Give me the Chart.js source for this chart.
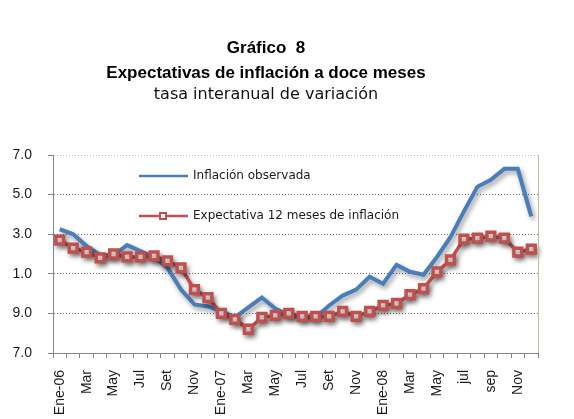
<!DOCTYPE html>
<html>
<head>
<meta charset="utf-8">
<script src="https://cdn.jsdelivr.net/npm/chart.js@4.4.0/dist/chart.umd.min.js"></script>
<style>
  html, body { margin: 0; padding: 0; background: #fff; }
  #wrap { width: 574px; height: 419px; position: relative; }
</style>
</head>
<body>
<div id="wrap"><canvas id="grafico" width="574" height="419"></canvas></div>
<script>
// Gráfico 8 — expectativas de inflación, ene-06 a dic-08
var meses = ['Ene-06', 'Feb', 'Mar', 'Abr', 'May', 'Jun', 'Jul', 'Ago', 'Set', 'Oct', 'Nov', 'Dic',
             'Ene-07', 'Feb', 'Mar', 'Abr', 'May', 'Jun', 'Jul', 'Ago', 'Set', 'Oct', 'Nov', 'Dic',
             'Ene-08', 'Feb', 'Mar', 'Abr', 'May', 'Jun', 'jul', 'ago', 'sep', 'oct', 'Nov', 'Dic'];

var inflacionObservada = [13.25, 13.0, 12.4, 11.95, 11.95, 12.45, 12.15, 11.85, 11.3, 10.2, 9.45, 9.35,
                          9.1, 8.8, 9.3, 9.8, 9.25, 8.9, 8.8, 8.8, 9.4, 9.9, 10.2, 10.85,
                          10.5, 11.45, 11.1, 10.95, 11.85, 12.85, 14.15, 15.4, 15.75, 16.3, 16.3, 13.9];

var expectativa12m = [12.7, 12.3, 12.1, 11.8, 12.0, 11.85, 11.85, 11.9, 11.65, 11.3, 10.2, 9.8,
                      9.0, 8.7, 8.2, 8.8, 8.9, 9.0, 8.85, 8.85, 8.85, 9.1, 8.85, 9.1,
                      9.4, 9.5, 9.95, 10.25, 11.1, 11.7, 12.75, 12.8, 12.9, 12.8, 12.1, 12.25];

// valores del eje y (7 a 17) y las etiquetas tal como se ven en el original
var yValores = [7, 9, 11, 13, 15, 17];
var yEtiquetas = ['7.0', '9.0', '1.0', '3.0', '5.0', '7.0'];

var titulos = ['Gráfico  8', 'Expectativas de inflación a doce meses', 'tasa interanual de variación'];
var leyenda = ['Inflación observada', 'Expectativa 12 meses de inflación'];

var AZUL = '#4a7ebb';
var ROJO = '#c0504d';
var CAQUI = '#c4bd97';

var sombraPlugin = {
    id: 'sombra',
    beforeDatasetsDraw: function (chart) {
        var ctx = chart.ctx;
        ctx.save();
        ctx.shadowColor = 'rgba(0,0,0,0.4)';
        ctx.shadowBlur = 5;
        ctx.shadowOffsetX = 2;
        ctx.shadowOffsetY = 3;
    },
    afterDatasetsDraw: function (chart) {
        chart.ctx.restore();
    }
};

var extrasPlugin = {
    id: 'extras',
    afterDraw: function (chart) {
        var ctx = chart.ctx;
        var a = chart.chartArea;
        ctx.save();

        // borde derecho
        ctx.strokeStyle = CAQUI;
        ctx.lineWidth = 1;
        ctx.beginPath();
        ctx.moveTo(a.right + 0.5, a.top);
        ctx.lineTo(a.right + 0.5, a.bottom);
        ctx.stroke();

        // títulos
        ctx.fillStyle = '#000';
        ctx.textAlign = 'center';
        ctx.textBaseline = 'middle';
        ctx.font = 'bold 17px "Liberation Sans", Arial, sans-serif';
        ctx.fillText(titulos[0], 266, 48);
        ctx.fillText(titulos[1], 266, 73);
        ctx.font = '16px "DejaVu Sans", sans-serif';
        ctx.fillStyle = '#111';
        ctx.fillText(titulos[2], 266, 95);

        // leyenda dentro del área
        ctx.textAlign = 'left';
        ctx.font = '12px "DejaVu Sans", sans-serif';
        ctx.fillStyle = '#1a1a1a';
        ctx.lineWidth = 2.5;
        ctx.strokeStyle = AZUL;
        ctx.beginPath();
        ctx.moveTo(139, 176);
        ctx.lineTo(188, 176);
        ctx.stroke();
        ctx.fillText(leyenda[0], 193, 176);

        ctx.strokeStyle = ROJO;
        ctx.beginPath();
        ctx.moveTo(139, 216);
        ctx.lineTo(188, 216);
        ctx.stroke();
        ctx.fillStyle = '#fff';
        ctx.lineWidth = 2;
        ctx.fillRect(160, 213, 6, 6);
        ctx.strokeRect(160, 213, 6, 6);
        ctx.fillStyle = '#1a1a1a';
        ctx.fillText(leyenda[1], 193, 216);
        ctx.restore();
    }
};

new Chart(document.getElementById('grafico'), {
    type: 'line',
    data: {
        labels: meses,
        datasets: [
            {
                label: leyenda[0],
                data: inflacionObservada,
                borderColor: AZUL,
                borderWidth: 4,
                pointRadius: 0,
                tension: 0,
                order: 2
            },
            {
                label: leyenda[1],
                data: expectativa12m,
                borderColor: ROJO,
                backgroundColor: '#fff',
                borderWidth: 3.5,
                pointStyle: 'rect',
                pointRadius: 5.5,
                pointBorderWidth: 3.5,
                pointBorderColor: ROJO,
                pointBackgroundColor: '#fff',
                tension: 0,
                order: 1
            }
        ]
    },
    options: {
        responsive: false,
        animation: false,
        devicePixelRatio: 1,
        layout: { padding: { top: 155, right: 36, left: 0, bottom: 0 } },
        plugins: {
            legend: { display: false },
            title: { display: false },
            tooltip: { enabled: false }
        },
        scales: {
            x: {
                offset: true,
                afterFit: function (s) { s.height = 66; },
                border: { display: true, color: '#868686', width: 1 },
                grid: {
                    offset: true,
                    drawOnChartArea: false,
                    drawTicks: true,
                    tickLength: 5,
                    tickColor: '#868686'
                },
                ticks: {
                    autoSkip: false,
                    minRotation: 90,
                    maxRotation: 90,
                    padding: 12,
                    color: '#1a1a1a',
                    font: { family: '"Liberation Sans", Arial, sans-serif', size: 14 },
                    callback: function (v, i) { return i % 2 === 0 ? meses[i] : ''; }
                }
            },
            y: {
                min: 7,
                max: 17,
                afterFit: function (s) { s.width = 53; },
                afterBuildTicks: function (s) {
                    s.ticks = yValores.map(function (v) { return { value: v }; });
                },
                border: { display: true, color: '#868686', width: 1, dash: [1, 2] },
                grid: {
                    color: function (c) { return c.tick && c.tick.value === 17 ? CAQUI : '#6f6f6f'; },
                    lineWidth: 1,
                    tickLength: 5,
                    tickColor: '#868686',
                    tickBorderDash: []
                },
                ticks: {
                    padding: 16,
                    color: '#1a1a1a',
                    font: { family: '"Liberation Sans", Arial, sans-serif', size: 14 },
                    callback: function (v) {
                        var i = yValores.indexOf(v);
                        return i >= 0 ? yEtiquetas[i] : '';
                    }
                }
            }
        }
    },
    plugins: [sombraPlugin, extrasPlugin]
});
</script>
</body>
</html>
